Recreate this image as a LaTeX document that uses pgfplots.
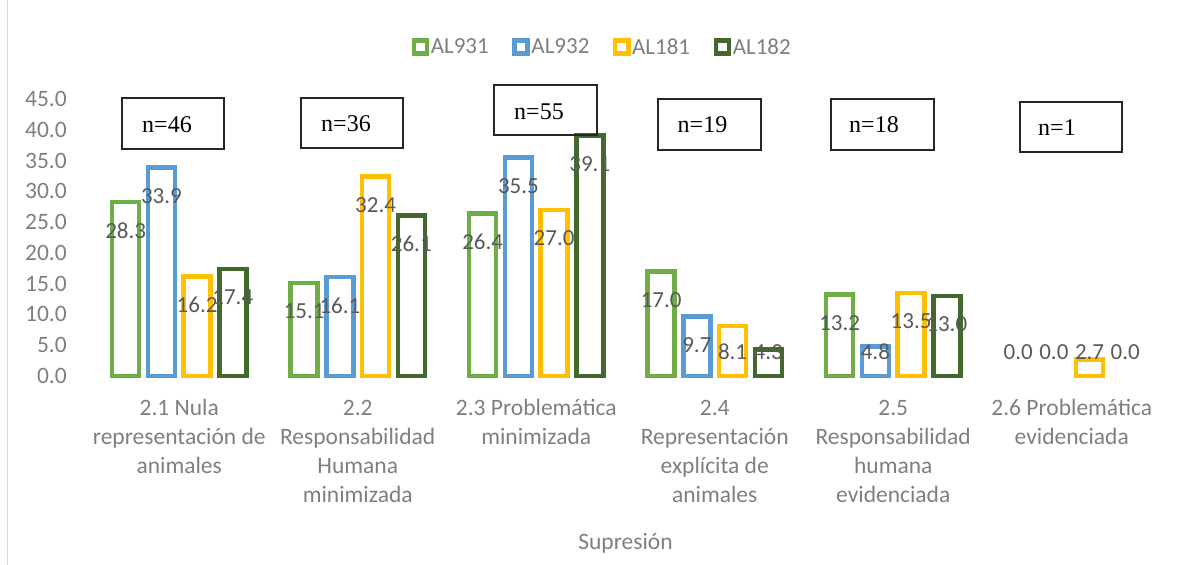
\documentclass[border=0pt]{standalone}
\usepackage{pgfplots}
\usepackage{pgfplotstable}
\pgfplotsset{compat=1.18}
\usepackage{fontspec}
\setmainfont{Carlito}
\newfontfamily\tnr{Liberation Serif}
\definecolor{cA}{HTML}{70AD47}
\definecolor{cB}{HTML}{5B9BD5}
\definecolor{cC}{HTML}{FFC000}
\definecolor{cD}{HTML}{43682B}
\definecolor{axgray}{HTML}{7F7F7F}
\definecolor{lblgray}{HTML}{595959}
\definecolor{framegray}{HTML}{D9D9D9}

% AL931
\pgfplotstableread{
x y
-0.3 28.3
0.7 15.1
1.7 26.4
2.7 17.0
3.7 13.2
}\tA
% AL932
\pgfplotstableread{
x y
-0.1 33.9
0.9 16.1
1.9 35.5
2.9 9.7
3.9 4.8
}\tB
% AL181
\pgfplotstableread{
x y
0.1 16.2
1.1 32.4
2.1 27.0
3.1 8.1
4.1 13.5
5.1 2.7
}\tC
% AL182
\pgfplotstableread{
x y
0.3 17.4
1.3 26.1
2.3 39.1
3.3 4.3
4.3 13.0
}\tD
% data labels: x, label position, label
\pgfplotstableread{
x y lab
-0.3 23.65 28.3
-0.1 29.25 33.9
0.1 11.55 16.2
0.3 12.75 17.4
0.7 10.45 15.1
0.9 11.45 16.1
1.1 27.75 32.4
1.3 21.45 26.1
1.7 21.75 26.4
1.9 30.85 35.5
2.1 22.35 27.0
2.3 34.45 39.1
2.7 12.35 17.0
2.9 5.05 9.7
3.1 3.9 8.1
3.3 3.9 4.3
3.7 8.55 13.2
3.9 3.9 4.8
4.1 8.85 13.5
4.3 8.35 13.0
4.7 3.9 0.0
4.9 3.9 0.0
5.1 3.9 2.7
5.3 3.9 0.0
}\tL

\pgfplotsset{
  mybar/.style={ybar, bar width=27pt, bar shift=0pt, draw=#1, fill=white, line width=4.5pt,
    legend image code/.code={\draw[draw=#1, fill=white, line width=4.5pt] (0pt,-6.6pt) rectangle (13.2pt,6.6pt);}},
}

\begin{document}
\begin{tikzpicture}
\useasboundingbox (0pt,0pt) rectangle (1179pt,565pt);
\draw[framegray, line width=1pt] (7.5pt,0pt) -- (7.5pt,565pt);
\begin{axis}[
  at={(90pt,189pt)}, anchor=south west,
  scale only axis, width=1071pt, height=277pt,
  xmin=-0.5, xmax=5.5, ymin=0, ymax=45,
  clip=false,
  axis line style={draw=none},
  tick style={draw=none},
  ytick={0,5,...,45},
  xtick={0,1,2,3,4,5},
  xticklabels={
    {\strut 2.1 Nula\\representación de\\animales},
    {\strut 2.2\\Responsabilidad\\Humana\\minimizada},
    {\strut 2.3 Problemática\\minimizada},
    {\strut 2.4\\Representación\\explícita de\\animales},
    {\strut 2.5\\Responsabilidad\\humana\\evidenciada},
    {\strut 2.6 Problemática\\evidenciada}},
  tick label style={font=\fontsize{23.5}{29}\selectfont, text=axgray},
  xticklabel style={align=center, anchor=north, inner sep=0pt, yshift=-18.7pt},
  yticklabel style={anchor=east, inner sep=0pt, xshift=-23pt,
    /pgf/number format/.cd, fixed, fixed zerofill, precision=1},
  /pgf/number format/assume math mode=true,
  legend columns=4,
  legend style={at={(0.478,1.188)}, anchor=center, draw=none, fill=none,
    font=\fontsize{23}{29}\selectfont, text=axgray,
    /tikz/every even column/.append style={column sep=22pt},
    nodes={inner sep=1.5pt}},
]
\addplot[mybar=cA] table[x=x,y=y]{\tA};
\addlegendentry{AL931}
\addplot[mybar=cB] table[x=x,y=y]{\tB};
\addlegendentry{AL932}
\addplot[mybar=cC] table[x=x,y=y]{\tC};
\addlegendentry{AL181}
\addplot[mybar=cD] table[x=x,y=y]{\tD};
\addlegendentry{AL182}
\addplot[forget plot, only marks, mark=*, mark size=0pt, mark options={draw=none,fill=none},
  nodes near coords, point meta=explicit symbolic,
  every node near coord/.append style={font=\fontsize{23}{29}\selectfont, text=lblgray, anchor=center, inner sep=0pt}]
  table[x=x,y=y,meta=lab]{\tL};
\end{axis}
% n= boxes
\begin{scope}[line width=1.3pt, draw=black!85]
\draw (122pt,467pt) rectangle (224pt,416pt);
\draw (301pt,467pt) rectangle (403pt,417pt);
\draw (494pt,480pt) rectangle (597pt,430pt);
\draw (658pt,466pt) rectangle (761pt,415pt);
\draw (831pt,466pt) rectangle (934pt,415pt);
\draw (1020pt,463pt) rectangle (1122pt,413pt);
\end{scope}
\begin{scope}[every node/.style={font=\tnr\fontsize{24}{28}\selectfont, inner sep=0pt, text=black}]
\node at (167pt,440pt) {n=46};
\node at (346pt,441.5pt) {n=36};
\node at (539pt,453pt) {n=55};
\node at (702.5pt,440pt) {n=19};
\node at (874pt,440pt) {n=18};
\node at (1057pt,437pt) {n=1};
\end{scope}
\node[font=\fontsize{23.5}{29}\selectfont, text=axgray] at (625.5pt,22pt) {Supresión};
\end{tikzpicture}
\end{document}
